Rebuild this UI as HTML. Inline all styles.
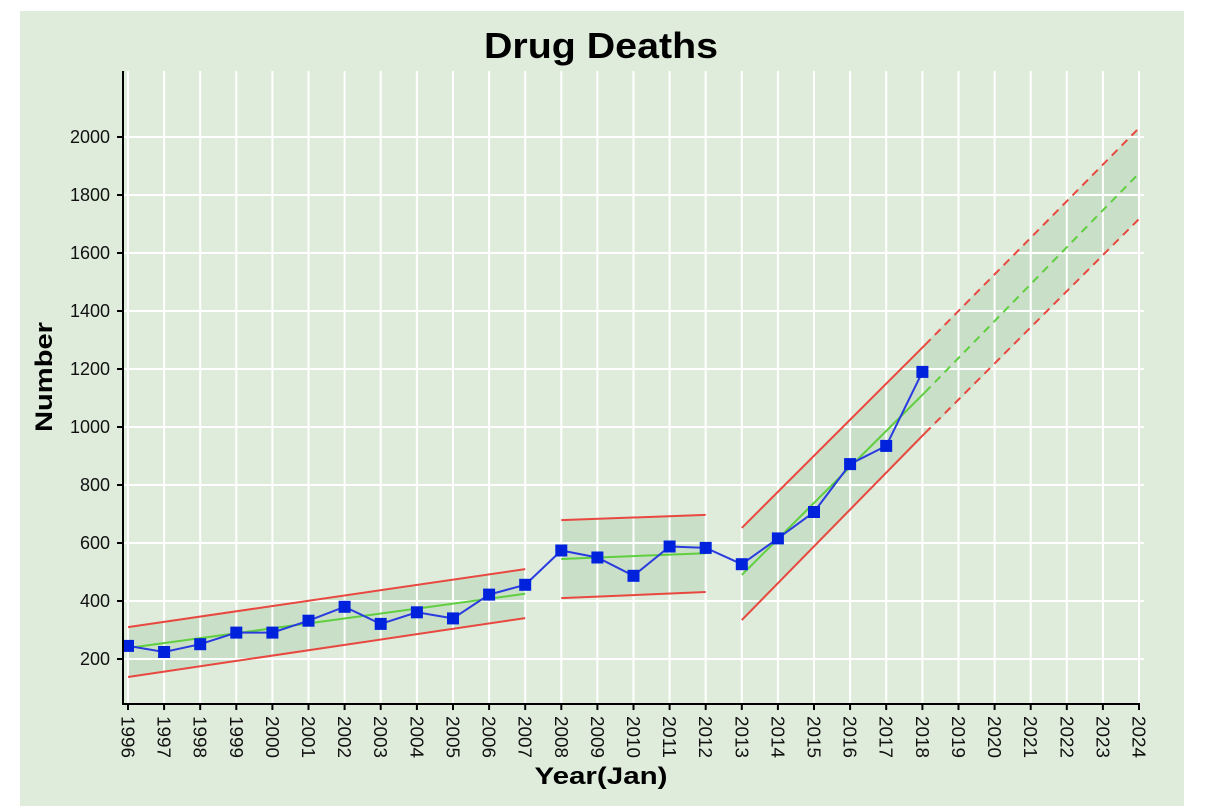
<!DOCTYPE html>
<html><head><meta charset="utf-8"><style>
html,body{margin:0;padding:0;background:#fff;}
svg{display:block;font-family:"Liberation Sans",sans-serif;}
</style></head><body>
<svg width="1208" height="812" viewBox="0 0 1208 812" xmlns="http://www.w3.org/2000/svg">
<rect x="20" y="11" width="1164" height="795" fill="#dfecdc"/>
<text x="601" y="58" font-size="36" font-weight="bold" text-anchor="middle" textLength="234" lengthAdjust="spacingAndGlyphs" fill="#000">Drug Deaths</text>
<g fill="#c9dfc7">
<polygon points="128,627.1 525.2,569.1 525.2,618.1 128,677"/>
<polygon points="561.3,520.1 705.7,514.9 705.7,592 561.3,598.1"/>
<polygon points="741.8,527.9 1139,128 1139,219 741.8,620.1"/>
</g>
<g stroke="#fff" stroke-width="2">
<line x1="123" y1="659" x2="1144" y2="659"/><line x1="123" y1="601" x2="1144" y2="601"/>
<line x1="123" y1="543" x2="1144" y2="543"/><line x1="123" y1="485" x2="1144" y2="485"/>
<line x1="123" y1="427" x2="1144" y2="427"/><line x1="123" y1="369" x2="1144" y2="369"/>
<line x1="123" y1="311" x2="1144" y2="311"/><line x1="123" y1="253" x2="1144" y2="253"/>
<line x1="123" y1="195" x2="1144" y2="195"/><line x1="123" y1="137" x2="1144" y2="137"/>
<line x1="128" y1="71" x2="128" y2="704"/><line x1="164.1" y1="71" x2="164.1" y2="704"/>
<line x1="200.2" y1="71" x2="200.2" y2="704"/><line x1="236.3" y1="71" x2="236.3" y2="704"/>
<line x1="272.4" y1="71" x2="272.4" y2="704"/><line x1="308.5" y1="71" x2="308.5" y2="704"/>
<line x1="344.6" y1="71" x2="344.6" y2="704"/><line x1="380.7" y1="71" x2="380.7" y2="704"/>
<line x1="416.9" y1="71" x2="416.9" y2="704"/><line x1="453" y1="71" x2="453" y2="704"/>
<line x1="489.1" y1="71" x2="489.1" y2="704"/><line x1="525.2" y1="71" x2="525.2" y2="704"/>
<line x1="561.3" y1="71" x2="561.3" y2="704"/><line x1="597.4" y1="71" x2="597.4" y2="704"/>
<line x1="633.5" y1="71" x2="633.5" y2="704"/><line x1="669.6" y1="71" x2="669.6" y2="704"/>
<line x1="705.7" y1="71" x2="705.7" y2="704"/><line x1="741.8" y1="71" x2="741.8" y2="704"/>
<line x1="777.9" y1="71" x2="777.9" y2="704"/><line x1="814" y1="71" x2="814" y2="704"/>
<line x1="850.1" y1="71" x2="850.1" y2="704"/><line x1="886.2" y1="71" x2="886.2" y2="704"/>
<line x1="922.4" y1="71" x2="922.4" y2="704"/><line x1="958.5" y1="71" x2="958.5" y2="704"/>
<line x1="994.6" y1="71" x2="994.6" y2="704"/><line x1="1030.7" y1="71" x2="1030.7" y2="704"/>
<line x1="1066.8" y1="71" x2="1066.8" y2="704"/><line x1="1102.9" y1="71" x2="1102.9" y2="704"/>
<line x1="1139" y1="71" x2="1139" y2="704"/>
</g>
<g stroke-width="2" fill="none">
<line x1="128" y1="627.1" x2="525.2" y2="569.1" stroke="#e8483f"/>
<line x1="128" y1="677" x2="525.2" y2="618.1" stroke="#e8483f"/>
<line x1="128" y1="648" x2="525.2" y2="593.8" stroke="#5fcf3f"/>
<line x1="561.3" y1="520.1" x2="705.7" y2="514.9" stroke="#e8483f"/>
<line x1="561.3" y1="598.1" x2="705.7" y2="592" stroke="#e8483f"/>
<line x1="561.3" y1="559" x2="705.7" y2="553.2" stroke="#5fcf3f"/>
<line x1="741.8" y1="527.9" x2="925" y2="344.9" stroke="#e8483f"/>
<line x1="741.8" y1="620.1" x2="925" y2="433.1" stroke="#e8483f"/>
<line x1="741.8" y1="574.9" x2="925" y2="392.3" stroke="#5fcf3f"/>
<line x1="925" y1="344.9" x2="1139" y2="128" stroke="#e8483f" stroke-dasharray="8,6"/>
<line x1="925" y1="433.1" x2="1139" y2="219" stroke="#e8483f" stroke-dasharray="8,6"/>
<line x1="925" y1="392.3" x2="1139" y2="173.3" stroke="#5fcf3f" stroke-dasharray="8,6"/>
</g>
<polyline fill="none" stroke="#2a3be0" stroke-width="2" points="128,645.9 164.1,652 200.2,644.2 236.3,632.6 272.4,632.6 308.5,620.7 344.6,606.8 380.7,623.9 416.9,612.3 453,618.4 489.1,594.6 525.2,584.8 561.3,550.5 597.4,557.5 633.5,575.8 669.6,546.5 705.7,547.9 741.8,564.2 777.9,538.4 814,512 850.1,464.1 886.2,445.9 922.4,371.9"/>
<g fill="#0022dd">
<rect x="122" y="639.9" width="12" height="12"/><rect x="158.1" y="646" width="12" height="12"/>
<rect x="194.2" y="638.2" width="12" height="12"/><rect x="230.3" y="626.6" width="12" height="12"/>
<rect x="266.4" y="626.6" width="12" height="12"/><rect x="302.5" y="614.7" width="12" height="12"/>
<rect x="338.6" y="600.8" width="12" height="12"/><rect x="374.7" y="617.9" width="12" height="12"/>
<rect x="410.9" y="606.3" width="12" height="12"/><rect x="447" y="612.4" width="12" height="12"/>
<rect x="483.1" y="588.6" width="12" height="12"/><rect x="519.2" y="578.8" width="12" height="12"/>
<rect x="555.3" y="544.5" width="12" height="12"/><rect x="591.4" y="551.5" width="12" height="12"/>
<rect x="627.5" y="569.8" width="12" height="12"/><rect x="663.6" y="540.5" width="12" height="12"/>
<rect x="699.7" y="541.9" width="12" height="12"/><rect x="735.8" y="558.2" width="12" height="12"/>
<rect x="771.9" y="532.4" width="12" height="12"/><rect x="808" y="506" width="12" height="12"/>
<rect x="844.1" y="458.1" width="12" height="12"/><rect x="880.2" y="439.9" width="12" height="12"/>
<rect x="916.4" y="365.9" width="12" height="12"/>
</g>
<g stroke="#000" stroke-width="2">
<line x1="123" y1="71" x2="123" y2="705"/><line x1="122" y1="704" x2="1140" y2="704"/>
<line x1="117" y1="659" x2="123" y2="659"/><line x1="117" y1="601" x2="123" y2="601"/>
<line x1="117" y1="543" x2="123" y2="543"/><line x1="117" y1="485" x2="123" y2="485"/>
<line x1="117" y1="427" x2="123" y2="427"/><line x1="117" y1="369" x2="123" y2="369"/>
<line x1="117" y1="311" x2="123" y2="311"/><line x1="117" y1="253" x2="123" y2="253"/>
<line x1="117" y1="195" x2="123" y2="195"/><line x1="117" y1="137" x2="123" y2="137"/>
<line x1="128" y1="704" x2="128" y2="710"/><line x1="164.1" y1="704" x2="164.1" y2="710"/><line x1="200.2" y1="704" x2="200.2" y2="710"/><line x1="236.3" y1="704" x2="236.3" y2="710"/><line x1="272.4" y1="704" x2="272.4" y2="710"/><line x1="308.5" y1="704" x2="308.5" y2="710"/><line x1="344.6" y1="704" x2="344.6" y2="710"/><line x1="380.7" y1="704" x2="380.7" y2="710"/><line x1="416.9" y1="704" x2="416.9" y2="710"/><line x1="453" y1="704" x2="453" y2="710"/><line x1="489.1" y1="704" x2="489.1" y2="710"/><line x1="525.2" y1="704" x2="525.2" y2="710"/><line x1="561.3" y1="704" x2="561.3" y2="710"/><line x1="597.4" y1="704" x2="597.4" y2="710"/><line x1="633.5" y1="704" x2="633.5" y2="710"/><line x1="669.6" y1="704" x2="669.6" y2="710"/><line x1="705.7" y1="704" x2="705.7" y2="710"/><line x1="741.8" y1="704" x2="741.8" y2="710"/><line x1="777.9" y1="704" x2="777.9" y2="710"/><line x1="814" y1="704" x2="814" y2="710"/><line x1="850.1" y1="704" x2="850.1" y2="710"/><line x1="886.2" y1="704" x2="886.2" y2="710"/><line x1="922.4" y1="704" x2="922.4" y2="710"/><line x1="958.5" y1="704" x2="958.5" y2="710"/><line x1="994.6" y1="704" x2="994.6" y2="710"/><line x1="1030.7" y1="704" x2="1030.7" y2="710"/><line x1="1066.8" y1="704" x2="1066.8" y2="710"/><line x1="1102.9" y1="704" x2="1102.9" y2="710"/><line x1="1139" y1="704" x2="1139" y2="710"/>
</g>
<g font-size="18" text-anchor="end" fill="#111">
<text x="110" y="665">200</text><text x="110" y="607">400</text><text x="110" y="549">600</text>
<text x="110" y="491">800</text><text x="110" y="433">1000</text><text x="110" y="375">1200</text>
<text x="110" y="317">1400</text><text x="110" y="259">1600</text><text x="110" y="201">1800</text>
<text x="110" y="143">2000</text>
</g>
<g font-size="18" fill="#111">
<text transform="translate(121.5,716) rotate(90)" textLength="42" lengthAdjust="spacingAndGlyphs">1996</text><text transform="translate(157.6,716) rotate(90)" textLength="42" lengthAdjust="spacingAndGlyphs">1997</text>
<text transform="translate(193.7,716) rotate(90)" textLength="42" lengthAdjust="spacingAndGlyphs">1998</text><text transform="translate(229.8,716) rotate(90)" textLength="42" lengthAdjust="spacingAndGlyphs">1999</text>
<text transform="translate(265.9,716) rotate(90)" textLength="42" lengthAdjust="spacingAndGlyphs">2000</text><text transform="translate(302,716) rotate(90)" textLength="42" lengthAdjust="spacingAndGlyphs">2001</text>
<text transform="translate(338.1,716) rotate(90)" textLength="42" lengthAdjust="spacingAndGlyphs">2002</text><text transform="translate(374.2,716) rotate(90)" textLength="42" lengthAdjust="spacingAndGlyphs">2003</text>
<text transform="translate(410.4,716) rotate(90)" textLength="42" lengthAdjust="spacingAndGlyphs">2004</text><text transform="translate(446.5,716) rotate(90)" textLength="42" lengthAdjust="spacingAndGlyphs">2005</text>
<text transform="translate(482.6,716) rotate(90)" textLength="42" lengthAdjust="spacingAndGlyphs">2006</text><text transform="translate(518.7,716) rotate(90)" textLength="42" lengthAdjust="spacingAndGlyphs">2007</text>
<text transform="translate(554.8,716) rotate(90)" textLength="42" lengthAdjust="spacingAndGlyphs">2008</text><text transform="translate(590.9,716) rotate(90)" textLength="42" lengthAdjust="spacingAndGlyphs">2009</text>
<text transform="translate(627,716) rotate(90)" textLength="42" lengthAdjust="spacingAndGlyphs">2010</text><text transform="translate(663.1,716) rotate(90)" textLength="42" lengthAdjust="spacingAndGlyphs">2011</text>
<text transform="translate(699.2,716) rotate(90)" textLength="42" lengthAdjust="spacingAndGlyphs">2012</text><text transform="translate(735.3,716) rotate(90)" textLength="42" lengthAdjust="spacingAndGlyphs">2013</text>
<text transform="translate(771.4,716) rotate(90)" textLength="42" lengthAdjust="spacingAndGlyphs">2014</text><text transform="translate(807.5,716) rotate(90)" textLength="42" lengthAdjust="spacingAndGlyphs">2015</text>
<text transform="translate(843.6,716) rotate(90)" textLength="42" lengthAdjust="spacingAndGlyphs">2016</text><text transform="translate(879.7,716) rotate(90)" textLength="42" lengthAdjust="spacingAndGlyphs">2017</text>
<text transform="translate(915.9,716) rotate(90)" textLength="42" lengthAdjust="spacingAndGlyphs">2018</text><text transform="translate(952,716) rotate(90)" textLength="42" lengthAdjust="spacingAndGlyphs">2019</text>
<text transform="translate(988.1,716) rotate(90)" textLength="42" lengthAdjust="spacingAndGlyphs">2020</text><text transform="translate(1024.2,716) rotate(90)" textLength="42" lengthAdjust="spacingAndGlyphs">2021</text>
<text transform="translate(1060.3,716) rotate(90)" textLength="42" lengthAdjust="spacingAndGlyphs">2022</text><text transform="translate(1096.4,716) rotate(90)" textLength="42" lengthAdjust="spacingAndGlyphs">2023</text>
<text transform="translate(1132.5,716) rotate(90)" textLength="42" lengthAdjust="spacingAndGlyphs">2024</text>
</g>
<text x="601" y="784" font-size="24" font-weight="bold" text-anchor="middle" textLength="133" lengthAdjust="spacingAndGlyphs">Year(Jan)</text>
<text transform="translate(52,377) rotate(-90)" font-size="24" font-weight="bold" text-anchor="middle" textLength="110" lengthAdjust="spacingAndGlyphs">Number</text>
</svg>
</body></html>
